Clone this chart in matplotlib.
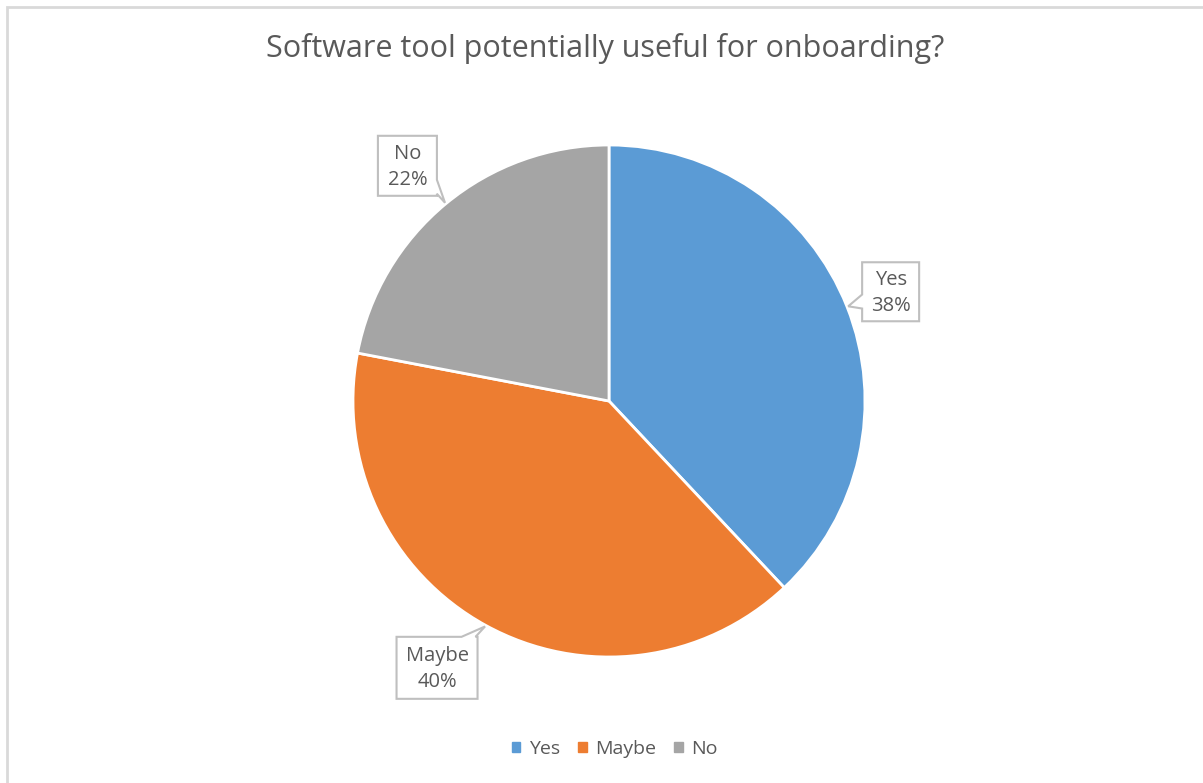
import numpy as np
import matplotlib
matplotlib.use("Agg")
import matplotlib.pyplot as plt
from matplotlib.patches import Polygon, Rectangle

plt.rcParams["font.family"] = ["Open Sans", "DejaVu Sans"]

title = "Software tool potentially useful for onboarding?"
categories = ["Yes", "Maybe", "No"]
shares = [38, 40, 22]
colors = ["#5B9BD5", "#ED7D31", "#A5A5A5"]
text_color = "#595959"

W, H = 1203, 783
fig = plt.figure(figsize=(W / 100, H / 100), dpi=100)
ax = fig.add_axes([0, 0, 1, 1])

# chart frame (only left/top edges fall inside the image)
ax.add_patch(Rectangle((7, -20), W + 40, H - 7 + 20, fill=False,
                       edgecolor="#D9D9D9", lw=2))

cx, cy, R = 609, H - 401, 256
wedges, _ = ax.pie(shares, colors=colors, startangle=90, counterclock=False,
                   radius=R, center=(cx, cy), frame=True,
                   wedgeprops=dict(edgecolor="white", linewidth=2))
ax.set_xlim(0, W)
ax.set_ylim(0, H)
ax.set_aspect("equal")
ax.axis("off")

ax.text(W / 2 + 4, H - 49, title, ha="center", va="center",
        fontsize=22, color=text_color)

# data callouts: boxes placed around each wedge's mid-angle
box_dist = [1.18, 1.24, 1.21]
box_turn = [-0.4, -4.0, 1.0]
box_size = [(57, 59), (81, 62), (59, 60)]


def callout(bx, by, w, h, tx, ty, base=14):
    x0, x1, y0, y1 = bx - w / 2, bx + w / 2, by - h / 2, by + h / 2
    dx, dy = tx - bx, ty - by
    # choose the edge facing the tip
    sx = (w / 2) / abs(dx) if dx else np.inf
    sy = (h / 2) / abs(dy) if dy else np.inf
    if sx < sy:
        ey = by + dy * sx
        ey = min(max(ey, y0 + base / 2 + 2), y1 - base / 2 - 2)
        if dx > 0:
            pts = [(x0, y0), (x1, y0), (x1, ey - base / 2), (tx, ty),
                   (x1, ey + base / 2), (x1, y1), (x0, y1)]
        else:
            pts = [(x0, y0), (x1, y0), (x1, y1), (x0, y1),
                   (x0, ey + base / 2), (tx, ty), (x0, ey - base / 2)]
    else:
        ex = bx + dx * sy
        ex = min(max(ex, x0 + base / 2 + 2), x1 - base / 2 - 2)
        if dy > 0:
            pts = [(x0, y0), (x1, y0), (x1, y1), (ex + base / 2, y1),
                   (tx, ty), (ex - base / 2, y1), (x0, y1)]
        else:
            pts = [(x0, y0), (ex - base / 2, y0), (tx, ty),
                   (ex + base / 2, y0), (x1, y0), (x1, y1), (x0, y1)]
    ax.add_patch(Polygon(pts, closed=True, facecolor="white",
                         edgecolor="#BFBFBF", lw=1.5, zorder=3))


for wdg, cat, pct, d, turn, (bw, bh) in zip(wedges, categories, shares,
                                            box_dist, box_turn, box_size):
    mid = np.deg2rad((wdg.theta1 + wdg.theta2) / 2)
    ang = mid + np.deg2rad(turn)
    bx = cx + d * R * np.cos(ang)
    by = cy + d * R * np.sin(ang)
    tx = cx + 1.005 * R * np.cos(mid)
    ty = cy + 1.005 * R * np.sin(mid)
    callout(bx, by, bw, bh, tx, ty)
    ax.text(bx, by - 1, f"{cat}\n{pct}%", ha="center", va="center",
            fontsize=14.5, color=text_color, linespacing=1.42, zorder=4)

# legend along the bottom
handles = [Rectangle((0, 0), 1, 1, color=c) for c in colors]
fig.legend(handles, categories, loc="center", bbox_to_anchor=(0.511, 1 - 749 / H),
           ncol=3, frameon=False, fontsize=14, handlelength=0.45,
           handleheight=0.45, handletextpad=0.45, columnspacing=0.9,
           labelcolor=text_color)

fig.savefig("out.png", dpi=100, facecolor="white")
